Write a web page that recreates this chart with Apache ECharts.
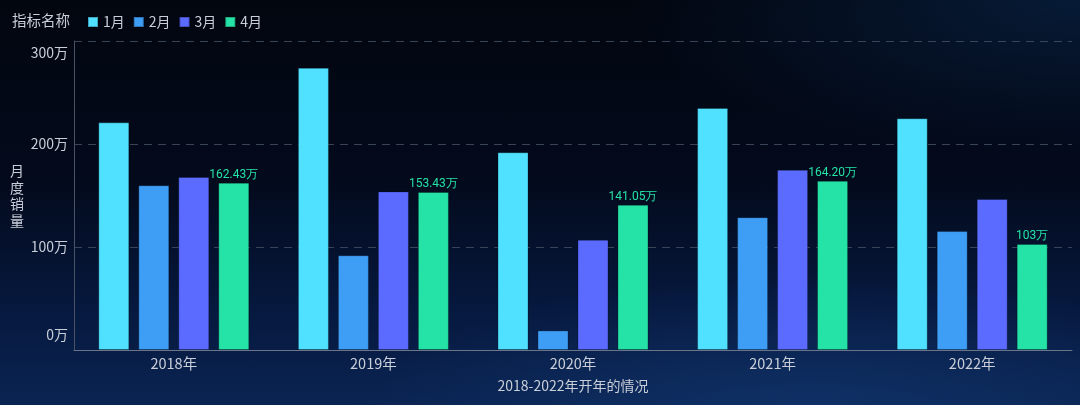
<!DOCTYPE html>
<html><head><meta charset="utf-8">
<script src="https://cdn.jsdelivr.net/npm/echarts@6/dist/echarts.min.js"></script>
<style>
html,body{margin:0;padding:0;width:1080px;height:405px;overflow:hidden;}
body{background:
 radial-gradient(ellipse 60% 45% at 75% 100%, rgba(20,60,120,0.5), rgba(0,0,0,0) 70%),
 radial-gradient(ellipse 60% 55% at 100% 0%, rgba(8,32,64,0.8), rgba(0,0,0,0) 70%),
 linear-gradient(180deg,#02060f 0%,#030a1c 45%,#06183d 75%,#0a2452 100%);}
#c{width:1080px;height:405px;}
</style></head><body><div id="c"></div>
<script>
const categories = ['2018年','2019年','2020年','2021年','2022年'];
const seriesNames = ['1月','2月','3月','4月'];
const jan = [221, 274, 192, 235, 225];
const feb = [160, 92, 19, 129, 115.5];
const mar = [168, 154, 107, 175, 146.6];
const apr = ['162.43', '153.43', '141.05', '164.20', '103'];
const colors = ['#4fe1ff','#3e9df5','#5b6bff','#25e3a7'];
const yTicks = [0, 100, 200, 300];

const FONT = '"Noto Sans CJK SC", sans-serif';
const chart = echarts.init(document.getElementById('c'), null, {renderer:'canvas'});
const values = [jan, feb, mar, apr];
const series = values.map((d,i)=>({
  name: seriesNames[i], type:'bar', data:d, barWidth:31, barGap:'29%',
  itemStyle:{color:colors[i], borderColor:'rgba(0,0,0,0.25)', borderWidth:1},
  label: i===3 ? {show:true, position:'top', distance:2, color:'#25e3a7', fontSize:12,
    fontFamily:'Roboto, sans-serif', formatter:p=>apr[p.dataIndex]+'万'} : {show:false}
}));
const yMin = yTicks[0], yMax = yTicks[yTicks.length-1];
chart.setOption({
  backgroundColor:'transparent',
  title:{text:'指标名称', left:7, top:8, textStyle:{color:'#c9ced8', fontSize:14.5, fontWeight:'normal', fontFamily:FONT}},
  legend:{left:82, top:10, itemWidth:10, itemHeight:10, itemGap:8, icon:'rect',
    textStyle:{color:'#c9ced8', fontSize:14, fontFamily:FONT}},
  grid:{left:74, right:8, top:41, bottom:55, containLabel:false},
  xAxis:{type:'category', data:categories,
    name:'2018-2022年开年的情况', nameLocation:'middle', nameGap:29,
    nameTextStyle:{color:'#c9ced8', fontSize:14, fontFamily:FONT},
    axisLine:{lineStyle:{color:'#6b7486'}}, axisTick:{show:false},
    axisLabel:{color:'#c9ced8', fontSize:14.5, margin:6, fontFamily:FONT}},
  yAxis:{type:'value', min:yMin, max:yMax, interval:100,
    name:'月\n度\n销\n量', nameLocation:'middle', nameRotate:0, nameGap:50,
    nameTextStyle:{color:'#c9ced8', fontSize:14, lineHeight:16.5, fontFamily:FONT},
    axisLine:{show:true, lineStyle:{color:'#4a5266'}}, axisTick:{show:false},
    splitLine:{lineStyle:{color:'#3a4458', type:[8,6], width:1}},
    axisLabel:{color:'#c9ced8', fontSize:14, margin:6,
      formatter:v=> v===yMin ? '{lo|'+v+'万}' : (v===yMax ? '{hi|'+v+'万}' : v+'万'),
      rich:{
        lo:{color:'#c9ced8', fontSize:14, fontFamily:FONT, padding:[0,0,30,0]},
        hi:{color:'#c9ced8', fontSize:14, fontFamily:FONT, padding:[24,0,0,0]}
      },
      fontFamily:FONT}},
  series: series
});
</script></body></html>
